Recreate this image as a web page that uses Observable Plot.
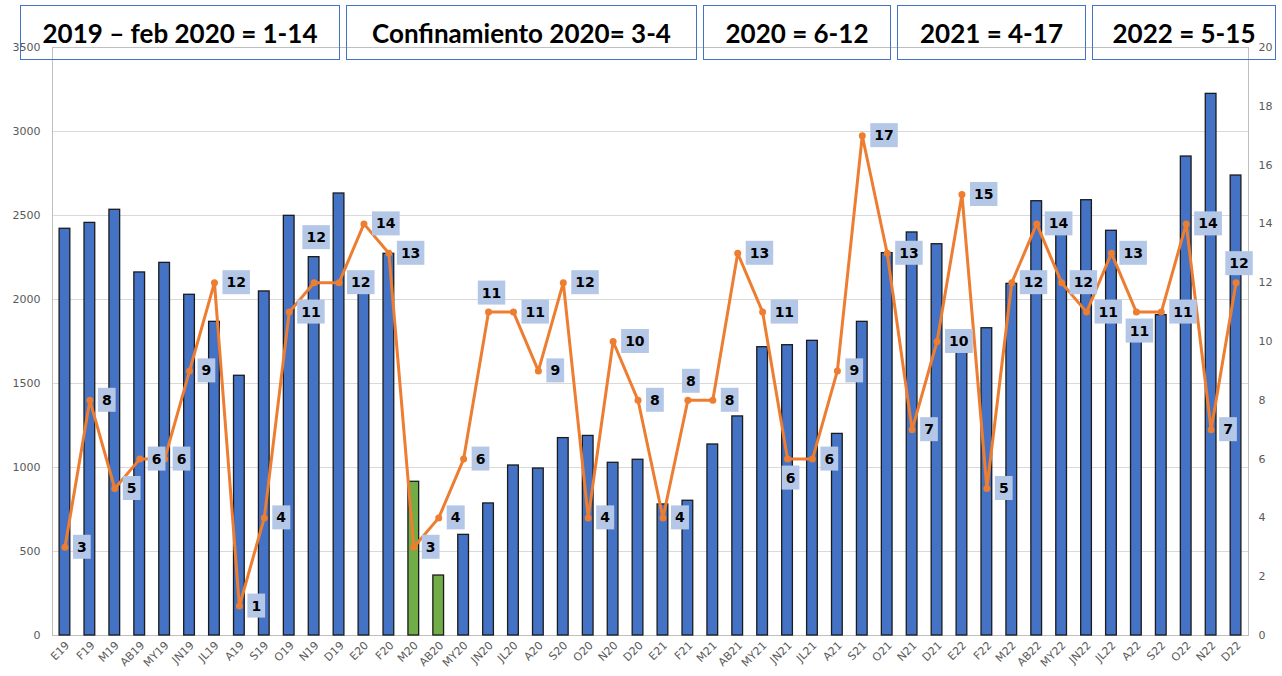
<!DOCTYPE html>
<html><head><meta charset="utf-8">
<script src="https://cdn.jsdelivr.net/npm/d3@7"></script>
<script src="https://cdn.jsdelivr.net/npm/@observablehq/plot@0.6"></script>
<style>
body{margin:0;background:#fff;}
#wrap{position:relative;width:1282px;height:676px;overflow:hidden;background:#fff;}
#wrap > svg{position:absolute;left:0;top:0;}
.hdr{position:absolute;top:5px;height:55px;box-sizing:border-box;border:1.6px solid #4472C4;display:flex;align-items:center;justify-content:center;font:bold 26px Lato, sans-serif;color:#000;white-space:nowrap;}
.mlab{position:absolute;font:11px "DejaVu Sans", sans-serif;line-height:12px;color:#595959;white-space:nowrap;transform-origin:100% 50%;transform:rotate(-45deg);}
</style></head><body><div id="wrap"></div>
<script>
// ---- data ----
const months = ["E19","F19","M19","AB19","MY19","JN19","JL19","A19","S19","O19","N19","D19",
  "E20","F20","M20","AB20","MY20","JN20","JL20","A20","S20","O20","N20","D20",
  "E21","F21","M21","AB21","MY21","JN21","JL21","A21","S21","O21","N21","D21",
  "E22","F22","M22","AB22","MY22","JN22","JL22","A22","S22","O22","N22","D22"];
const totals = [2421,2456,2534,2161,2218,2028,1867,1546,2048,2498,2252,2631,
  2090,2272,915,357,599,786,1012,994,1175,1188,1028,1046,
  780,802,1137,1304,1716,1728,1754,1200,1867,2276,2399,2329,
  1750,1829,2093,2585,2430,2591,2409,1850,1907,2851,3224,2738];
const counts = [3,8,5,6,6,9,12,1,4,11,12,12,
  14,13,3,4,6,11,11,9,12,4,10,8,
  4,8,8,13,11,6,6,9,17,13,7,10,
  15,5,12,14,12,11,13,11,11,14,7,12];
const lockdownMonths = ["M20","AB20"];
const periodTitles = ["2019 – feb 2020 = 1-14","Confinamiento 2020= 3-4","2020 = 6-12","2021 = 4-17","2022 = 5-15"];
const leftTicks = [0,500,1000,1500,2000,2500,3000,3500];
const rightTicks = [0,2,4,6,8,10,12,14,16,18,20];
const labelAbove = ["JN20","F21","D22"];
const labelHigh = ["N19"];
const labelBelow = ["JN21","A22"];

// ---- layout ----
const k = 3500 / 20; // right-axis scale factor
const data = months.map((m, i) => ({month: m, total: totals[i], n: counts[i], lock: lockdownMonths.includes(m)}));
const special = new Set([...labelAbove, ...labelHigh, ...labelBelow]);
const lbl = {x: "month", y: d => d.n * k, text: d => String(d.n), fontWeight: "bold", fontSize: 14,
  fontFamily: "DejaVu Sans", fill: "#000001"};

const svg = Plot.plot({
  width: 1282, height: 676,
  marginLeft: 52, marginRight: 34, marginTop: 47, marginBottom: 41,
  style: {fontFamily: "DejaVu Sans", fontSize: "11px", color: "#595959", background: "transparent"},
  x: {domain: months, paddingInner: 0.57, paddingOuter: 0.285, label: null, axis: null},
  y: {domain: [0, 3500], label: null, axis: null},
  marks: [
    Plot.gridY(leftTicks, {stroke: "#d9d9d9", strokeOpacity: 1}),
    Plot.frame({stroke: "#bfbfbf"}),
    Plot.barY(data.filter(d => !d.lock), {x: "month", y: "total", fill: "#4472C4", stroke: "#1b1b1b", strokeWidth: 1.3}),
    Plot.barY(data.filter(d => d.lock), {x: "month", y: "total", fill: "#70AD47", stroke: "#1b1b1b", strokeWidth: 1.3}),
    Plot.line(data, {x: "month", y: d => d.n * k, stroke: "#ED7D31", strokeWidth: 3}),
    Plot.dot(data, {x: "month", y: d => d.n * k, r: 3.5, fill: "#ED7D31"}),
    Plot.text(data.filter(d => !special.has(d.month)), {...lbl, textAnchor: "start", dx: 12}),
    Plot.text(data.filter(d => labelAbove.includes(d.month)), {...lbl, dx: 3, dy: -19}),
    Plot.text(data.filter(d => labelHigh.includes(d.month)), {...lbl, dx: 2, dy: -45}),
    Plot.text(data.filter(d => labelBelow.includes(d.month)), {...lbl, dx: 3, dy: 19}),
    Plot.axisY(leftTicks, {anchor: "left", tickSize: 0, tickPadding: 12, tickFormat: v => String(v), label: null}),
    Plot.axisY(rightTicks.map(v => v * k), {anchor: "right", tickSize: 0, tickPadding: 10, tickFormat: v => String(Math.round(v / k)), label: null}),
    // month label anchors (replaced by rotated labels below)
    Plot.text(months, {x: d => d, y: () => 0, text: d => d, textAnchor: "end", lineAnchor: "middle",
      fontSize: 11, fill: "#595958"})
  ]
});
const wrap = document.getElementById("wrap");
wrap.appendChild(svg);

// label background boxes
svg.querySelectorAll('g[fill="#000001"] text, text[fill="#000001"]').forEach(t => {
  const b = t.getBBox();
  const r = document.createElementNS("http://www.w3.org/2000/svg", "rect");
  const w = b.width + 8, h = 24;
  r.setAttribute("x", b.x + b.width / 2 - w / 2);
  r.setAttribute("y", b.y + b.height / 2 - h / 2);
  r.setAttribute("width", w);
  r.setAttribute("height", h);
  r.setAttribute("fill", "#B4C7E7");
  const tr = t.getAttribute("transform");
  if (tr) r.setAttribute("transform", tr);
  t.parentNode.insertBefore(r, t);
});

// month labels rotated -45° (HTML, anchored at the Plot-computed tick positions)
const sR = wrap.getBoundingClientRect();
const monthTexts = [...svg.querySelectorAll('g[fill="#595958"] text, text[fill="#595958"]')];
const anchors = monthTexts.map(t => {
  const r = t.getBoundingClientRect();
  return [r.right - sR.left, (r.top + r.bottom) / 2 - sR.top];
});
monthTexts.forEach((t, i) => {
  const [ex, cy] = anchors[i];
  const d = document.createElement("div");
  d.className = "mlab";
  d.textContent = t.textContent;
  d.style.right = (1282 - (ex + 3)) + "px";
  d.style.top = (cy + 8 - 6) + "px";
  wrap.appendChild(d);
  t.remove();
});

// header boxes
const boxes = [[20, 340], [346, 697], [703, 891], [897, 1086], [1092, 1276]];
periodTitles.forEach((s, i) => {
  const d = document.createElement("div");
  d.className = "hdr";
  d.style.left = boxes[i][0] + "px";
  d.style.width = (boxes[i][1] - boxes[i][0]) + "px";
  d.textContent = s;
  wrap.appendChild(d);
});
</script></body></html>
